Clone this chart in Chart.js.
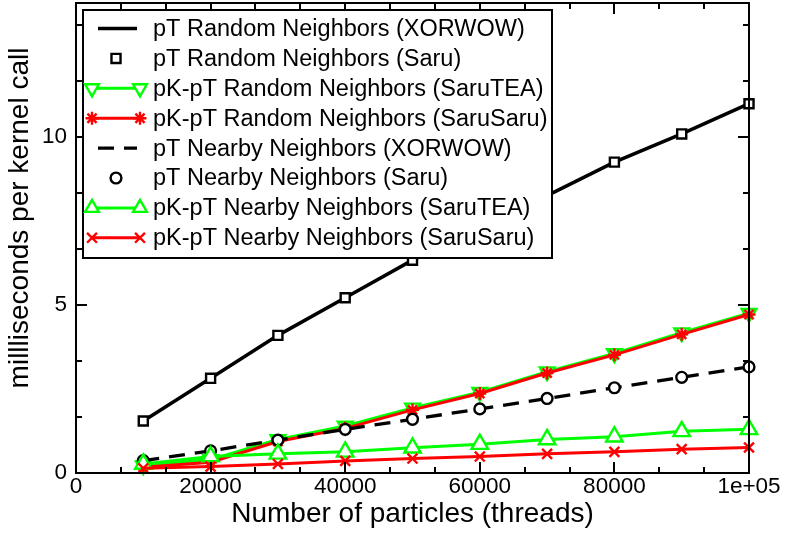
<!DOCTYPE html>
<html>
<head>
<meta charset="utf-8">
<script src="https://cdn.jsdelivr.net/npm/chart.js@4/dist/chart.umd.min.js"></script>
<style>
  html, body { margin: 0; padding: 0; background: #ffffff; }
  #wrap { width: 785px; height: 536px; }
</style>
</head>
<body>
<div id="wrap"><canvas id="c" width="785" height="536"></canvas></div>
<script>
// Number of particles (threads) per run
const particles = [10000, 20000, 30000, 40000, 50000, 60000, 70000, 80000, 90000, 100000];

// Milliseconds per kernel call
const pTRandomXorwow     = [1.55, 2.82, 4.10, 5.22, 6.34, 7.30, 8.26, 9.26, 10.10, 11.00];
const pTRandomSaru       = [1.55, 2.82, 4.10, 5.22, 6.34, 7.30, 8.26, 9.26, 10.10, 11.00];
const pKpTRandomSaruTEA  = [0.22, 0.40, 1.00, 1.40, 1.94, 2.41, 3.02, 3.56, 4.18, 4.76];
const pKpTRandomSaruSaru = [0.17, 0.32, 0.94, 1.33, 1.88, 2.37, 2.98, 3.52, 4.13, 4.72];
const pTNearbyXorwow     = [0.37, 0.66, 0.98, 1.30, 1.60, 1.91, 2.22, 2.54, 2.85, 3.16];
const pTNearbySaru       = [0.37, 0.66, 0.98, 1.30, 1.60, 1.91, 2.22, 2.54, 2.85, 3.16];
const pKpTNearbySaruTEA  = [0.27, 0.49, 0.57, 0.63, 0.75, 0.86, 1.00, 1.08, 1.24, 1.30];
const pKpTNearbySaruSaru = [0.14, 0.19, 0.27, 0.36, 0.43, 0.49, 0.57, 0.63, 0.71, 0.76];

const seriesLabels = [
  'pT Random Neighbors (XORWOW)',
  'pT Random Neighbors (Saru)',
  'pK-pT Random Neighbors (SaruTEA)',
  'pK-pT Random Neighbors (SaruSaru)',
  'pT Nearby Neighbors (XORWOW)',
  'pT Nearby Neighbors (Saru)',
  'pK-pT Nearby Neighbors (SaruTEA)',
  'pK-pT Nearby Neighbors (SaruSaru)'
];

// Axis ticks
const xTickValues = [0, 20000, 40000, 60000, 80000, 100000];
const xTickText   = ['0', '20000', '40000', '60000', '80000', '1e+05'];
const yTickValues = [0, 5, 10];
const yTickText   = ['0', '5', '10'];

const xTitle = 'Number of particles (threads)';
const yTitle = 'millliseconds per kernel call';

const BLACK = '#000000';
const GREEN = '#00ff00';
const RED = '#ff0000';
const FONT = '"Liberation Sans", Arial, Helvetica, sans-serif';

const pts = arr => particles.map((x, i) => ({ x: x, y: arr[i] }));

// Line-only, marker-only, or line-with-marker series
function lineSeries(label, arr, color, width, dash) {
  return {
    label, data: pts(arr), borderColor: color, borderWidth: width,
    borderDash: dash || [], pointRadius: 0, pointHoverRadius: 0,
    showLine: true, tension: 0, clip: false
  };
}
function markerSeries(label, arr, color, style, radius) {
  return {
    label, data: pts(arr), showLine: false, borderColor: color,
    pointStyle: style, pointRadius: radius, pointHoverRadius: radius,
    pointBorderColor: color, pointBackgroundColor: '#ffffff',
    pointBorderWidth: 2.4, clip: false
  };
}
function comboSeries(label, arr, color, style, radius, rotation) {
  return {
    label, data: pts(arr), showLine: true, tension: 0, borderColor: color,
    borderWidth: 3, pointStyle: style, pointRadius: radius, pointHoverRadius: radius,
    pointRotation: rotation || 0, pointBorderColor: color,
    pointBackgroundColor: '#ffffff', pointBorderWidth: 2.4, clip: false
  };
}

const datasets = [
  lineSeries(seriesLabels[0], pTRandomXorwow, BLACK, 3.5),
  markerSeries(seriesLabels[1], pTRandomSaru, BLACK, 'rect', 6.4),
  comboSeries(seriesLabels[2], pKpTRandomSaruTEA, GREEN, 'triangle', 8.5, 180),
  comboSeries(seriesLabels[3], pKpTRandomSaruSaru, RED, 'star', 6.5),
  lineSeries(seriesLabels[4], pTNearbyXorwow, BLACK, 3.3, [16, 10]),
  markerSeries(seriesLabels[5], pTNearbySaru, BLACK, 'circle', 5.4),
  comboSeries(seriesLabels[6], pKpTNearbySaruTEA, GREEN, 'triangle', 9.5),
  comboSeries(seriesLabels[7], pKpTNearbySaruSaru, RED, 'crossRot', 7)
];
// later series are painted on top of earlier ones
datasets.forEach((d, i) => { d.order = datasets.length - 1 - i; });

// Frame with inward major/minor ticks on all four sides, y title, then the boxed legend
const framePlugin = {
  id: 'frameTicksLegend',
  afterDatasetsDraw(chart) {
    const ctx = chart.ctx;
    const a = chart.chartArea;
    const xs = chart.scales.x, ys = chart.scales.y;
    ctx.save();
    ctx.strokeStyle = BLACK;
    ctx.lineWidth = 2;
    ctx.lineCap = 'butt';
    ctx.strokeRect(a.left, a.top, a.right - a.left, a.bottom - a.top);

    const MAJOR = 11, MINOR = 6;
    ctx.beginPath();
    const xStep = 20000 / 3;
    for (let k = 0; k * xStep <= xs.max + 1; k++) {
      const v = k * xStep;
      const len = (k % 3 === 0) ? MAJOR : MINOR;
      const px = Math.round(xs.getPixelForValue(v));
      ctx.moveTo(px, a.bottom); ctx.lineTo(px, a.bottom - len);
      ctx.moveTo(px, a.top); ctx.lineTo(px, a.top + len);
    }
    const yStep = 5 / 3;
    for (let k = 0; k * yStep <= ys.max + 1e-9; k++) {
      const v = k * yStep;
      const len = (k % 3 === 0) ? MAJOR : MINOR;
      const py = Math.round(ys.getPixelForValue(v));
      ctx.moveTo(a.left, py); ctx.lineTo(a.left + len, py);
      ctx.moveTo(a.right, py); ctx.lineTo(a.right - len, py);
    }
    ctx.stroke();

    // vertical axis title
    ctx.fillStyle = BLACK;
    ctx.font = '28px ' + FONT;
    ctx.textAlign = 'center';
    ctx.textBaseline = 'middle';
    ctx.translate(20, (a.top + a.bottom) / 2 - 20);
    ctx.rotate(-Math.PI / 2);
    ctx.fillText(yTitle, 0, 0);
    ctx.restore();
  },
  afterDraw(chart) {
    const ctx = chart.ctx;
    const a = chart.chartArea;
    const boxL = a.left + 7, boxT = a.top + 7, boxW = 469, boxH = 248;
    const rowH = 29.9, firstRow = boxT + 18.5;
    const symL = boxL + 9, symR = boxL + 57, symC = (symL + symR) / 2;
    const textX = boxL + 70;

    ctx.save();
    ctx.fillStyle = '#ffffff';
    ctx.fillRect(boxL, boxT, boxW, boxH);
    ctx.strokeStyle = BLACK;
    ctx.lineWidth = 2;
    ctx.strokeRect(boxL, boxT, boxW, boxH);

    chart.data.datasets.forEach((d, i) => {
      const cy = firstRow + i * rowH;
      ctx.save();
      const hasLine = d.showLine !== false;
      const hasMarker = d.pointRadius > 0;
      if (hasLine) {
        ctx.strokeStyle = d.borderColor;
        ctx.lineWidth = d.borderWidth;
        ctx.setLineDash(d.borderDash || []);
        ctx.beginPath();
        if (hasMarker) { ctx.moveTo(symL, cy); ctx.lineTo(symR, cy); }
        else { ctx.moveTo(symL + 6, cy); ctx.lineTo(symR - 3, cy); }
        ctx.stroke();
        ctx.setLineDash([]);
      }
      if (hasMarker) {
        ctx.strokeStyle = d.pointBorderColor;
        ctx.fillStyle = d.pointBackgroundColor;
        ctx.lineWidth = d.pointBorderWidth;
        const opts = {
          pointStyle: d.pointStyle, rotation: d.pointRotation || 0,
          radius: Math.min(d.pointRadius, 8), borderWidth: d.pointBorderWidth
        };
        const spots = hasLine ? [symL, symR] : [symC];
        spots.forEach(px => Chart.helpers.drawPoint(ctx, opts, px, cy));
      }
      ctx.restore();
      ctx.fillStyle = BLACK;
      ctx.font = '23.5px ' + FONT;
      ctx.textBaseline = 'middle';
      ctx.textAlign = 'left';
      ctx.fillText(d.label, textX, cy + 1);
    });
    ctx.restore();
  }
};

new Chart(document.getElementById('c'), {
  type: 'line',
  data: { datasets },
  plugins: [framePlugin],
  options: {
    responsive: false,
    animation: false,
    devicePixelRatio: 1,
    layout: { autoPadding: false, padding: { top: 3, right: 36, left: 0, bottom: 0 } },
    plugins: { legend: { display: false }, tooltip: { enabled: false } },
    events: [],
    scales: {
      x: {
        type: 'linear', min: 0, max: 100000,
        grid: { display: false, drawTicks: false },
        border: { display: false },
        afterBuildTicks: s => { s.ticks = xTickValues.map(v => ({ value: v })); },
        afterFit: s => { s.height = 63; s.paddingLeft = 0; },
        ticks: {
          color: BLACK, padding: 0, maxRotation: 0, autoSkip: false,
          font: { family: FONT, size: 22.5 },
          callback: v => xTickText[xTickValues.indexOf(v)]
        },
        title: {
          display: true, text: xTitle, color: BLACK,
          font: { family: FONT, size: 28 }, padding: { top: 0, bottom: 5 }
        }
      },
      y: {
        type: 'linear', min: 0, max: 14,
        grid: { display: false, drawTicks: false },
        border: { display: false },
        afterBuildTicks: s => { s.ticks = yTickValues.map(v => ({ value: v })); },
        afterFit: s => { s.width = 76; s.paddingTop = 0; s.paddingBottom = 0; },
        ticks: {
          color: BLACK, padding: 9, autoSkip: false,
          font: { family: FONT, size: 22.5 },
          callback: v => yTickText[yTickValues.indexOf(v)]
        },
        title: { display: false }
      }
    }
  }
});
</script>
</body>
</html>
